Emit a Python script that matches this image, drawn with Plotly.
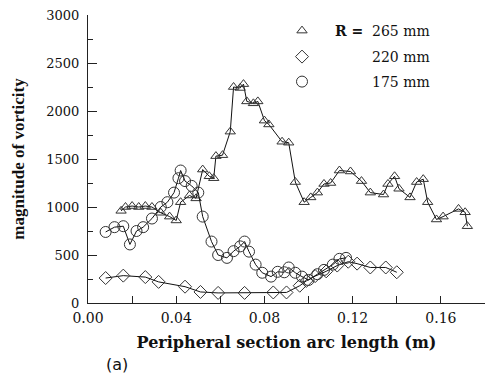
import plotly.graph_objects as go

# R = 265 mm (triangles)
x265 = [0.015, 0.017, 0.020, 0.023, 0.026, 0.029, 0.033, 0.037, 0.040, 0.042,
        0.046, 0.049, 0.052, 0.055, 0.057, 0.058, 0.061, 0.0645, 0.066, 0.069,
        0.0705, 0.072, 0.075, 0.077, 0.080, 0.082, 0.088, 0.091, 0.094, 0.098,
        0.101, 0.104, 0.107, 0.110, 0.114, 0.119, 0.124, 0.128, 0.134, 0.136,
        0.139, 0.141, 0.146, 0.149, 0.152, 0.154, 0.158, 0.161, 0.168, 0.171, 0.172]
y265 = [960, 1000, 1010, 1000, 1010, 1000, 940, 900, 860, 1050,
        1120, 1090, 1390, 1320, 1300, 1530, 1540, 1785, 2250, 2240,
        2280, 2100, 2080, 2100, 1900, 1860, 1680, 1670, 1260, 1050,
        1100, 1150, 1240, 1250, 1380, 1370, 1270, 1150, 1130, 1240,
        1320, 1190, 1100, 1260, 1290, 1050, 870, 900, 980, 945, 800]

# R = 220 mm (diamonds)
x220 = [0.008, 0.016, 0.026, 0.032, 0.044, 0.051, 0.059, 0.071, 0.084, 0.090,
        0.096, 0.099, 0.103, 0.108, 0.113, 0.118, 0.122, 0.128, 0.135, 0.140]
y220 = [260, 285, 270, 220, 170, 115, 105, 105, 110, 110,
        180, 230, 280, 330, 390, 430, 410, 370, 370, 320]

# R = 175 mm (circles)
x175 = [0.008, 0.012, 0.016, 0.019, 0.022, 0.025, 0.029, 0.033, 0.036, 0.039,
        0.041, 0.042, 0.044, 0.047, 0.050, 0.052, 0.056, 0.059, 0.063, 0.066,
        0.069, 0.071, 0.073, 0.076, 0.079, 0.083, 0.086, 0.089, 0.091, 0.094,
        0.097, 0.100, 0.104, 0.107, 0.111, 0.114, 0.117]
y175 = [740, 790, 800, 610, 750, 790, 880, 1000, 1050, 1150,
        1300, 1380, 1270, 1220, 1150, 900, 640, 500, 470, 540,
        590, 640, 535, 400, 315, 275, 325, 320, 370, 315,
        275, 240, 300, 345, 400, 460, 470]

names = ["265 mm", "220 mm", "175 mm"]
symbols = ["triangle-up-open", "diamond-open", "circle-open"]
sizes = [9, 10, 11]
xticks = [0, 0.04, 0.08, 0.12, 0.16]
xticklabels = ["0.00", "0.04", "0.08", "0.12", "0.16"]

SERIF = "Liberation Serif, Times New Roman, serif"
WIDE = "DejaVu Serif, serif"

# the page body has an 8px margin; figure is sized so the screen shows 494x375
OFF = 8
FW, FH = 494 - OFF, 375 - OFF
# plot area in screen pixels: x 88..485, y 15..303
L, T = 88 - OFF, 15 - OFF
R_ = FW - (485 - OFF)
B = FH - (303 - OFF)
PW, PH = FW - L - R_, FH - T - B

def px(xs):   # screen x -> paper
    return (xs - OFF - L) / PW

def py(ys):   # screen y -> paper
    return 1 - (ys - OFF - T) / PH

fig = go.Figure()
legend_ids = ["legend", "legend2", "legend3"]
for i, (xs, ys) in enumerate([(x265, y265), (x220, y220), (x175, y175)]):
    fig.add_trace(go.Scatter(
        x=xs, y=ys, mode="lines+markers", name=names[i], showlegend=False,
        line=dict(color="#111111", width=1),
        marker=dict(symbol=symbols[i], size=sizes[i], color="#333333",
                    line=dict(width=1, color="#333333")),
    ))
    # legend-only entry (marker without line)
    fig.add_trace(go.Scatter(
        x=[None], y=[None], mode="markers", name=names[i], legend=legend_ids[i],
        marker=dict(symbol=symbols[i], size=sizes[i], color="#333333",
                    line=dict(width=1, color="#333333")),
    ))

legend_rows = [31, 57, 82]
IW = 130
leg_left = 305 - (IW / 2 + 8)
legs = {}
for lid, row in zip(legend_ids, legend_rows):
    legs[lid] = dict(x=px(leg_left), y=py(row), xanchor="left", yanchor="middle",
                     bgcolor="rgba(0,0,0,0)", itemwidth=IW,
                     font=dict(family=WIDE, size=14, color="#111"))

fig.update_layout(
    width=FW, height=FH,
    margin=dict(l=L, r=R_, t=T, b=B),
    paper_bgcolor="white", plot_bgcolor="white",
    font=dict(family=SERIF, color="#111111", size=14),
    showlegend=True,
    **legs,
    xaxis=dict(range=[0, 0.18], tickvals=xticks, ticktext=xticklabels,
               automargin=False, ticklabeloverflow="allow", ticklabelstandoff=2,
               ticks="inside", ticklen=7, tickcolor="#222", showgrid=False,
               zeroline=False, showline=True, linecolor="#222", linewidth=1,
               minor=dict(dtick=0.02, tick0=0, ticks="inside", ticklen=7, tickcolor="#222"),
               tickfont=dict(family=WIDE, size=14),
               title=dict(text="<b>Peripheral section arc length (m)</b>",
                          font=dict(family=WIDE, size=16), standoff=12)),
    yaxis=dict(range=[0, 3000], dtick=500, ticks="inside", ticklen=9,
               automargin=False, ticklabeloverflow="allow", ticklabelstandoff=5,
               tickcolor="#222", showgrid=False, zeroline=False, showline=True,
               linecolor="#222", linewidth=1,
               minor=dict(dtick=250, ticks="inside", ticklen=5, tickcolor="#222"),
               tickfont=dict(family=WIDE, size=13),
               title=dict(text="<b>magnitude of vorticity</b>",
                          font=dict(family=SERIF, size=17), standoff=17)),
    annotations=[
        dict(text="<b>R =</b>", xref="paper", yref="paper", x=px(333),
             y=py(31), xanchor="left", yanchor="middle",
             showarrow=False, font=dict(family=WIDE, size=14, color="#111")),
        dict(text="(a)", xref="paper", yref="paper", x=px(104),
             y=py(364), xanchor="left", yanchor="middle",
             showarrow=False, font=dict(family="DejaVu Sans", size=16, color="#111")),
    ],
)

fig.write_html("out.html")
